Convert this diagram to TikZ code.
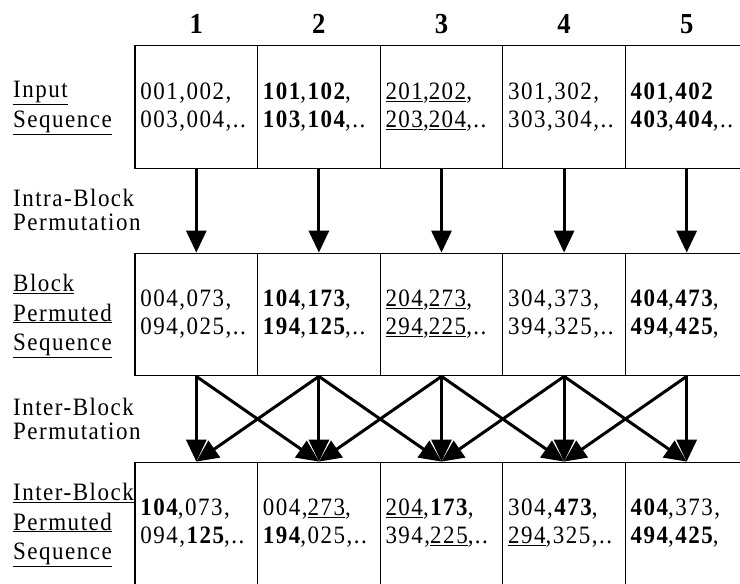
\documentclass[tikz,border=0pt]{standalone}
\usepackage{fontspec}
\setmainfont{Liberation Serif}[LetterSpace=6,FakeStretch=0.92]
\usetikzlibrary{arrows.meta}

\tikzset{
  seqbox/.style={draw,line width=1.3pt,minimum width=122.6pt,minimum height=122.5pt,
    text width=112pt,inner xsep=5pt,inner ysep=0pt,align=left,
    font=\fontsize{25}{28}\selectfont},
  rowlabel/.style={anchor=west,inner sep=0pt,align=left,font=\fontsize{25}{29.5}\selectfont},
  steplabel/.style={anchor=west,inner sep=0pt,align=left,font=\fontsize{25}{24}\selectfont},
  colnum/.style={font=\fontsize{29}{29}\selectfont\bfseries},
  perm/.style={line width=3pt,-{Triangle[length=22pt,width=20pt]}}
}

\begin{document}
\begin{tikzpicture}[x=1pt,y=-1pt]
\useasboundingbox (0,0) rectangle (740,584);

% block numbers
\node[colnum] (c1) at (196.3,24) {1};
\node[colnum] (c2) at (318.9,24) {2};
\node[colnum] (c3) at (441.5,24) {3};
\node[colnum] (c4) at (564.1,24) {4};
\node[colnum] (c5) at (686.7,24) {5};

% input sequence
\node[rowlabel] (lin) at (13,108) {\underline{Input}\\\underline{Sequence}};
\node[seqbox] (in1) at (196.3,107) {001,002,\\003,004,..};
\node[seqbox] (in2) at (318.9,107) {\textbf{101},\textbf{102},\\\textbf{103},\textbf{104},..};
\node[seqbox] (in3) at (441.5,107) {\underline{201},\underline{202},\\\underline{203},\underline{204},..};
\node[seqbox] (in4) at (564.1,107) {301,302,\\303,304,..};
\node[seqbox] (in5) at (686.7,107) {\textbf{401},\textbf{402}\\\textbf{403},\textbf{404},..};

\node[steplabel] (lintra) at (13,210) {Intra-Block\\Permutation};

% block permuted sequence
\node[rowlabel] (lbp) at (13,316) {\underline{Block}\\\underline{Permuted}\\\underline{Sequence}};
\node[seqbox] (bp1) at (196.3,314.5) {004,073,\\094,025,..};
\node[seqbox] (bp2) at (318.9,314.5) {\textbf{104},\textbf{173},\\\textbf{194},\textbf{125},..};
\node[seqbox] (bp3) at (441.5,314.5) {\underline{204},\underline{273},\\\underline{294},\underline{225},..};
\node[seqbox] (bp4) at (564.1,314.5) {304,373,\\394,325,..};
\node[seqbox] (bp5) at (686.7,314.5) {\textbf{404},\textbf{473},\\\textbf{494},\textbf{425},};

\node[steplabel] (linter) at (13,419) {Inter-Block\\Permutation};

% inter-block permuted sequence
\node[rowlabel] (lib) at (13,525) {\underline{Inter-Block}\\\underline{Permuted}\\\underline{Sequence}};
\node[seqbox] (ib1) at (196.3,523.5) {\textbf{104},073,\\094,\textbf{125},..};
\node[seqbox] (ib2) at (318.9,523.5) {004,\underline{273},\\\textbf{194},025,..};
\node[seqbox] (ib3) at (441.5,523.5) {\underline{204},\textbf{173},\\394,\underline{225},..};
\node[seqbox] (ib4) at (564.1,523.5) {304,\textbf{473},\\\underline{294},325,..};
\node[seqbox] (ib5) at (686.7,523.5) {\textbf{404},373,\\\textbf{494},\textbf{425},};

% intra-block permutation
\draw[perm] (in1.south) -- (bp1.north);
\draw[perm] (in2.south) -- (bp2.north);
\draw[perm] (in3.south) -- (bp3.north);
\draw[perm] (in4.south) -- (bp4.north);
\draw[perm] (in5.south) -- (bp5.north);

% inter-block permutation
\draw[perm] (bp1.south) -- (ib1.north);
\draw[perm] (bp2.south) -- (ib2.north);
\draw[perm] (bp3.south) -- (ib3.north);
\draw[perm] (bp4.south) -- (ib4.north);
\draw[perm] (bp5.south) -- (ib5.north);
\draw[perm] (bp1.south) -- (ib2.north);
\draw[perm] (bp2.south) -- (ib1.north);
\draw[perm] (bp2.south) -- (ib3.north);
\draw[perm] (bp3.south) -- (ib2.north);
\draw[perm] (bp3.south) -- (ib4.north);
\draw[perm] (bp4.south) -- (ib3.north);
\draw[perm] (bp4.south) -- (ib5.north);
\draw[perm] (bp5.south) -- (ib4.north);
\end{tikzpicture}
\end{document}
